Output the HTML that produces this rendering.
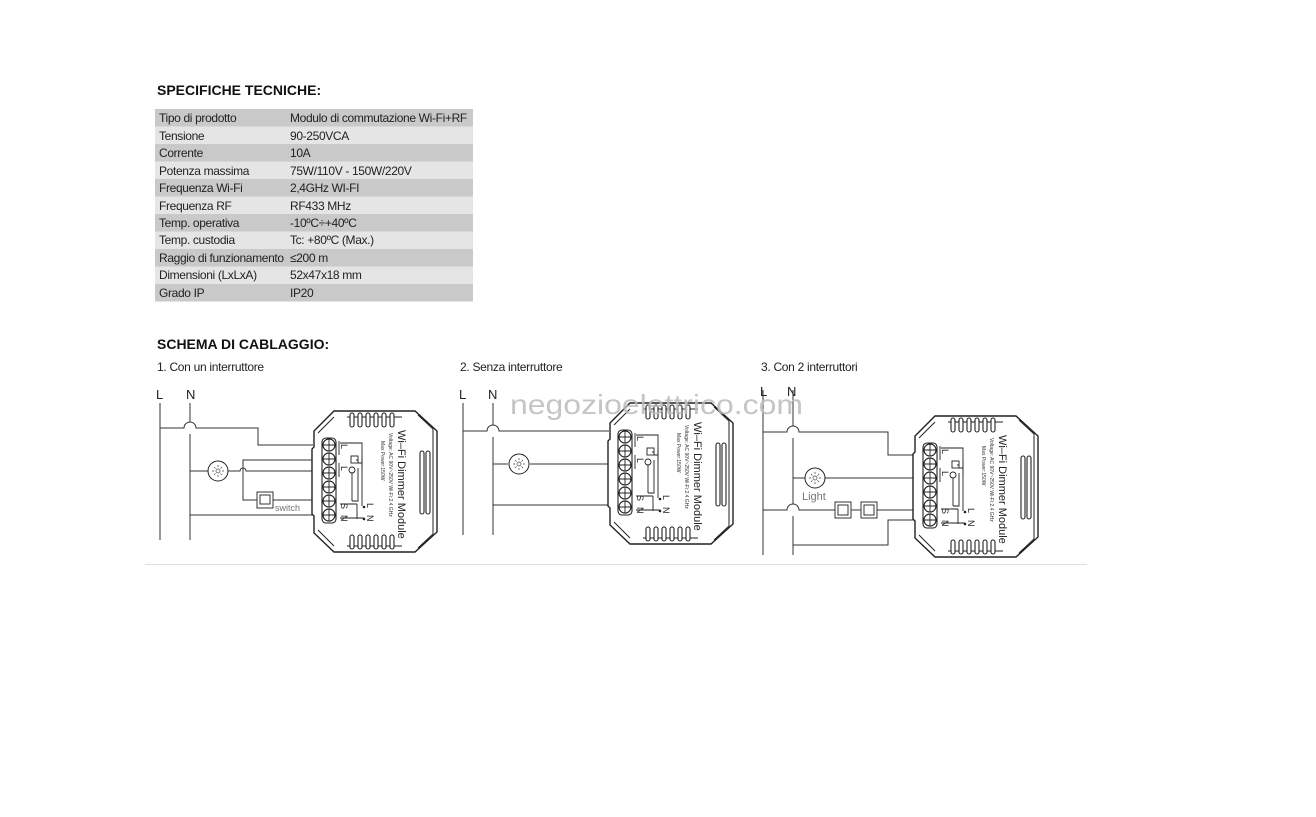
<!DOCTYPE html>
<html><head><meta charset="utf-8"><style>
body{margin:0;background:#fff;width:1316px;height:812px;overflow:hidden;font-family:"Liberation Sans",sans-serif}
</style></head><body>
<svg width="1316" height="812" viewBox="0 0 1316 812" xmlns="http://www.w3.org/2000/svg" font-family="Liberation Sans, sans-serif">
<defs>
<g id="mod">
 <path d="M22,0 L103,0 L125,20 L125,121 L103,141 L22,141 L2,122 L2,105 L0,103 L0,38 L2,36 L2,20 Z" fill="#fff" stroke="#222" stroke-width="1.4"/>
 <path d="M106,4 L121,18 L121,123 L106,137" fill="none" stroke="#222" stroke-width="1"/>
 <path d="M6,22 L22,6 M6,119 L22,135" stroke="#222" stroke-width="1"/>
 <line x1="35" y1="6" x2="90" y2="6" stroke="#222"/>
 <line x1="35" y1="135" x2="90" y2="135" stroke="#222"/>
 <g fill="#fff" stroke="#222" stroke-width="1.1">
  <rect x="38" y="2" width="4" height="14" rx="2"/><rect x="46" y="2" width="4" height="14" rx="2"/><rect x="54" y="2" width="4" height="14" rx="2"/><rect x="62" y="2" width="4" height="14" rx="2"/><rect x="70" y="2" width="4" height="14" rx="2"/><rect x="78" y="2" width="4" height="14" rx="2"/>
  <rect x="38" y="124" width="4" height="14" rx="2"/><rect x="46" y="124" width="4" height="14" rx="2"/><rect x="54" y="124" width="4" height="14" rx="2"/><rect x="62" y="124" width="4" height="14" rx="2"/><rect x="70" y="124" width="4" height="14" rx="2"/><rect x="78" y="124" width="4" height="14" rx="2"/>
  <rect x="108" y="40" width="4" height="63" rx="2"/><rect x="114" y="40" width="4" height="63" rx="2"/>
  <rect x="10" y="27" width="14" height="85" rx="4"/>
 </g>
 <g fill="#fff" stroke="#222" stroke-width="1.2">
  <circle cx="17" cy="34" r="6"/><circle cx="17" cy="48" r="6"/><circle cx="17" cy="62" r="6"/><circle cx="17" cy="76" r="6"/><circle cx="17" cy="90" r="6"/><circle cx="17" cy="104" r="6"/>
 </g>
 <g stroke="#222" stroke-width="0.9">
  <path d="M11,34h12M17,28v12M11,48h12M17,42v12M11,62h12M17,56v12M11,76h12M17,70v12M11,90h12M17,84v12M11,104h12M17,98v12"/>
 </g>
 <g fill="none" stroke="#222" stroke-width="0.9">
  <path d="M27,30 V44 M27,52 V66"/>
  <path d="M28,32 H50 V95"/>
  <path d="M44,49 H46 M50,46 V58 M46,52 H50 M46,57 H46 V90 H40"/>
  <rect x="39" y="45" width="7" height="7"/>
  <circle cx="40" cy="59" r="3"/>
  <path d="M40,62 V90"/>
  <path d="M28,93 H45 M45,93 V108 M28,107 H52"/>
 </g>
 <circle cx="52" cy="96" r="1.3" fill="#222"/><circle cx="52" cy="108" r="1.3" fill="#222"/>
 <g font-size="9" fill="#222">
  <text transform="translate(29,33) rotate(90)">L</text>
  <text transform="translate(29,55) rotate(90)">L</text>
  <text transform="translate(29,92) rotate(90)">S</text>
  <text transform="translate(29,104) rotate(90)">N</text>
  <text transform="translate(55,92) rotate(90)">L</text>
  <text transform="translate(55,104) rotate(90)">N</text>
 </g>
 <text transform="translate(86,19) rotate(90)" font-size="11" fill="#222">Wi–Fi Dimmer Module</text>
 <text transform="translate(77,22) rotate(90)" font-size="5" fill="#333">Voltage: AC 90V~250V   Wi-Fi:2.4 GHz</text>
 <text transform="translate(69,30) rotate(90)" font-size="5" fill="#333">Max Power:150W</text>
</g>
<g id="lamp">
 <circle r="10" fill="#fff" stroke="#222" stroke-width="1"/>
 <circle r="2" fill="none" stroke="#444" stroke-width="0.7"/>
 <path d="M0,-6V-4M0,4V6M-6,0H-4M4,0H6M-4,-4l1.5,1.5M4,4l-1.5,-1.5M4,-4l-1.5,1.5M-4,4l1.5,-1.5" stroke="#444" stroke-width="0.7"/>
</g>
</defs>

<text x="157" y="95" font-size="14" font-weight="bold" fill="#111">SPECIFICHE TECNICHE:</text>
<g font-size="12" fill="#222" letter-spacing="-0.35">
<rect x="155" y="109" width="318" height="17.5" fill="#c9c9c9"/>
<rect x="155" y="126.5" width="318" height="17.5" fill="#e5e5e5"/>
<rect x="155" y="144" width="318" height="17.5" fill="#c9c9c9"/>
<rect x="155" y="161.5" width="318" height="17.5" fill="#e5e5e5"/>
<rect x="155" y="179" width="318" height="17.5" fill="#c9c9c9"/>
<rect x="155" y="196.5" width="318" height="17.5" fill="#e5e5e5"/>
<rect x="155" y="214" width="318" height="17.5" fill="#c9c9c9"/>
<rect x="155" y="231.5" width="318" height="17.5" fill="#e5e5e5"/>
<rect x="155" y="249" width="318" height="17.5" fill="#c9c9c9"/>
<rect x="155" y="266.5" width="318" height="17.5" fill="#e5e5e5"/>
<rect x="155" y="284" width="318" height="17.5" fill="#c9c9c9"/>
<text x="159" y="122">Tipo di prodotto</text><text x="290" y="122">Modulo di commutazione Wi-Fi+RF</text>
<text x="159" y="140">Tensione</text><text x="290" y="140">90-250VCA</text>
<text x="159" y="157">Corrente</text><text x="290" y="157">10A</text>
<text x="159" y="175">Potenza massima</text><text x="290" y="175">75W/110V  -  150W/220V</text>
<text x="159" y="192">Frequenza Wi-Fi</text><text x="290" y="192">2,4GHz WI-FI</text>
<text x="159" y="210">Frequenza RF</text><text x="290" y="210">RF433 MHz</text>
<text x="159" y="227">Temp. operativa</text><text x="290" y="227">-10ºC÷+40ºC</text>
<text x="159" y="244">Temp. custodia</text><text x="290" y="244">Tc: +80ºC (Max.)</text>
<text x="159" y="262">Raggio di funzionamento</text><text x="290" y="262">≤200 m</text>
<text x="159" y="279">Dimensioni (LxLxA)</text><text x="290" y="279">52x47x18 mm</text>
<text x="159" y="297">Grado IP</text><text x="290" y="297">IP20</text>
</g>

<text x="157" y="349" font-size="14" font-weight="bold" fill="#111">SCHEMA DI CABLAGGIO:</text>
<g font-size="12" fill="#222" letter-spacing="-0.3">
<text x="157" y="371">1. Con un interruttore</text>
<text x="460" y="371">2. Senza interruttore</text>
<text x="761" y="371">3. Con 2 interruttori</text>
</g>

<g fill="none" stroke="#333" stroke-width="1">
<path d="M160,403V540 M190,403V422 M190,434V540"/>
<path d="M160,428H184 A6,6 0 0 1 196,428 H258 V445 H313"/>
<path d="M190,471H208 M228,471H240 A3,3 0 0 1 246,471 H313"/>
<path d="M313,460H243V500H257 M273,500H313"/>
<path d="M190,515H313"/>
<path d="M463,403V535 M493,403V425 M493,437V535"/>
<path d="M463,431H487 A6,6 0 0 1 499,431 H609"/>
<path d="M493,464H508 M530,464H609"/>
<path d="M493,505H609"/>
<path d="M763,390V555 M793,390V426 M793,438V504 M793,516V555"/>
<path d="M763,432H787 A6,6 0 0 1 799,432 H888 V455 H914"/>
<path d="M793,478H805 M825,478H914"/>
<path d="M763,510H787 A6,6 0 0 1 799,510 H835 M851,510H861 M877,510H914"/>
<path d="M914,520H888V545H793"/>
</g>
<g font-size="13" fill="#222">
<text x="156" y="399">L</text><text x="186" y="399">N</text>
<text x="459" y="399">L</text><text x="488" y="399">N</text>
<text x="760" y="396">L</text><text x="787" y="396">N</text>
</g>
<use href="#lamp" x="218" y="471"/>
<use href="#lamp" x="519" y="464"/>
<use href="#lamp" x="815" y="478"/>
<text x="802" y="500" font-size="11" fill="#777">Light</text>
<rect x="257" y="492" width="16" height="16" fill="#fff" stroke="#333"/><rect x="260" y="495" width="10" height="9" fill="none" stroke="#333"/>
<text x="275" y="511" font-size="9" fill="#777">switch</text>
<g fill="#fff" stroke="#333">
<rect x="835" y="502" width="16" height="16"/><rect x="838" y="505" width="10" height="10"/>
<rect x="861" y="502" width="16" height="16"/><rect x="864" y="505" width="10" height="10"/>
</g>
<use href="#mod" x="312" y="411"/>
<use href="#mod" x="608" y="403"/>
<use href="#mod" x="913" y="416"/>
<text x="510" y="414" font-size="28" textLength="293" lengthAdjust="spacingAndGlyphs" fill="#bbb" fill-opacity="0.85">negozioelettrico.com</text>
<line x1="145" y1="564.5" x2="1087" y2="564.5" stroke="#ddd"/>
</svg>
</body></html>
